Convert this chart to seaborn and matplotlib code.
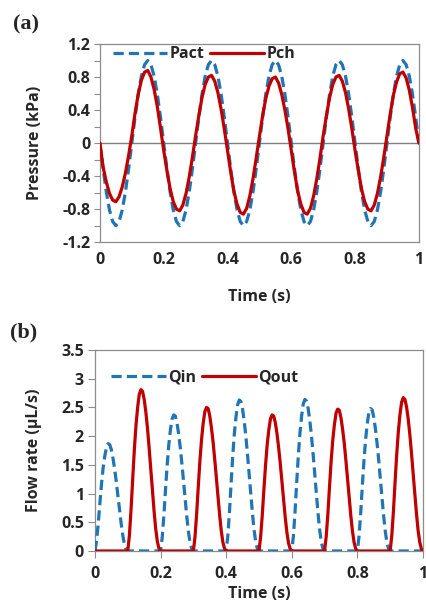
import numpy as np
import pandas as pd
import matplotlib
matplotlib.use("Agg")
import matplotlib.pyplot as plt
import seaborn as sns

# ---------------- data ----------------
time = [round(i * 0.01, 2) for i in range(101)]

pact = [0, -0.31, -0.59, -0.81, -0.95, -1.0, -0.95, -0.81, -0.59, -0.31,
        0, 0.31, 0.59, 0.81, 0.95, 1.0, 0.95, 0.81, 0.59, 0.31,
        0, -0.31, -0.59, -0.81, -0.95, -1.0, -0.95, -0.81, -0.59, -0.31,
        0, 0.31, 0.59, 0.81, 0.95, 1.0, 0.95, 0.81, 0.59, 0.31,
        0, -0.31, -0.59, -0.81, -0.95, -1.0, -0.95, -0.81, -0.59, -0.31,
        0, 0.31, 0.59, 0.81, 0.95, 1.0, 0.95, 0.81, 0.59, 0.31,
        0, -0.31, -0.59, -0.81, -0.95, -1.0, -0.95, -0.81, -0.59, -0.31,
        0, 0.31, 0.59, 0.81, 0.95, 1.0, 0.95, 0.81, 0.59, 0.31,
        0, -0.31, -0.59, -0.81, -0.95, -1.0, -0.95, -0.81, -0.59, -0.31,
        0, 0.31, 0.59, 0.81, 0.95, 1.0, 0.95, 0.81, 0.59, 0.31,
        0]

pch = [0, -0.29, -0.47, -0.61, -0.69, -0.71, -0.65, -0.53, -0.36, -0.15,
       0.09, 0.36, 0.59, 0.76, 0.86, 0.88, 0.80, 0.65, 0.44, 0.18,
       -0.09, -0.33, -0.55, -0.71, -0.80, -0.82, -0.75, -0.61, -0.41, -0.17,
       0.09, 0.33, 0.55, 0.71, 0.80, 0.82, 0.75, 0.61, 0.41, 0.17,
       -0.09, -0.35, -0.58, -0.74, -0.84, -0.86, -0.79, -0.64, -0.43, -0.18,
       0.08, 0.33, 0.54, 0.69, 0.78, 0.80, 0.73, 0.59, 0.40, 0.17,
       -0.09, -0.35, -0.58, -0.74, -0.84, -0.86, -0.79, -0.64, -0.43, -0.18,
       0.09, 0.33, 0.55, 0.71, 0.80, 0.82, 0.75, 0.61, 0.41, 0.17,
       -0.09, -0.33, -0.55, -0.71, -0.80, -0.82, -0.75, -0.61, -0.41, -0.17,
       0.09, 0.35, 0.58, 0.74, 0.84, 0.86, 0.79, 0.64, 0.43, 0.18,
       0]

# flow-rate pulses sampled every 5 ms; between pulses the flow is zero
qin_time = ([round(s + k * 0.005, 3) for s in (0.0, 0.2, 0.4, 0.6, 0.8)
             for k in range(21)] + [1.0])
qin = [0, 0.19, 0.49, 0.84, 1.18, 1.46, 1.66, 1.81, 1.87, 1.85, 1.76,
       1.61, 1.42, 1.20, 0.95, 0.71, 0.47, 0.26, 0.11, 0.03, 0,
       0, 0.24, 0.62, 1.07, 1.49, 1.85, 2.11, 2.30, 2.37, 2.35, 2.23,
       2.04, 1.80, 1.52, 1.21, 0.90, 0.59, 0.33, 0.14, 0.04, 0,
       0, 0.26, 0.68, 1.18, 1.66, 2.05, 2.34, 2.55, 2.63, 2.60, 2.47,
       2.26, 2.00, 1.68, 1.34, 1.00, 0.66, 0.37, 0.16, 0.04, 0,
       0, 0.26, 0.69, 1.19, 1.66, 2.06, 2.35, 2.56, 2.64, 2.61, 2.48,
       2.27, 2.01, 1.69, 1.35, 1.00, 0.66, 0.37, 0.16, 0.04, 0,
       0, 0.25, 0.64, 1.12, 1.56, 1.93, 2.21, 2.41, 2.48, 2.46, 2.33,
       2.13, 1.88, 1.59, 1.26, 0.94, 0.62, 0.35, 0.15, 0.04, 0,
       0]

qout_time = ([0.0] + [round(s + k * 0.005, 3) for s in (0.1, 0.3, 0.5, 0.7, 0.9)
                      for k in range(21)])
qout = [0,
        0, 0.28, 0.73, 1.26, 1.77, 2.19, 2.50, 2.73, 2.81, 2.78, 2.64,
        2.42, 2.14, 1.80, 1.43, 1.07, 0.70, 0.39, 0.17, 0.04, 0,
        0, 0.25, 0.65, 1.13, 1.58, 1.95, 2.23, 2.43, 2.50, 2.48, 2.35,
        2.15, 1.90, 1.60, 1.28, 0.95, 0.63, 0.35, 0.15, 0.04, 0,
        0, 0.24, 0.62, 1.07, 1.49, 1.85, 2.11, 2.30, 2.37, 2.35, 2.23,
        2.04, 1.80, 1.52, 1.21, 0.90, 0.59, 0.33, 0.14, 0.04, 0,
        0, 0.25, 0.64, 1.11, 1.56, 1.93, 2.20, 2.40, 2.47, 2.45, 2.32,
        2.12, 1.88, 1.58, 1.26, 0.94, 0.62, 0.35, 0.15, 0.04, 0,
        0, 0.27, 0.69, 1.20, 1.68, 2.08, 2.38, 2.59, 2.67, 2.64, 2.51,
        2.30, 2.03, 1.71, 1.36, 1.01, 0.67, 0.37, 0.16, 0.04, 0]

xticks = [0, 0.2, 0.4, 0.6, 0.8, 1]
xticklabels = ["0", "0.2", "0.4", "0.6", "0.8", "1"]
yticks_a = [-1.2, -0.8, -0.4, 0, 0.4, 0.8, 1.2]
yticklabels_a = ["-1.2", "-0.8", "-0.4", "0", "0.4", "0.8", "1.2"]
yticks_b = [0, 0.5, 1, 1.5, 2, 2.5, 3, 3.5]
yticklabels_b = ["0", "0.5", "1", "1.5", "2", "2.5", "3", "3.5"]

# ---------------- style ----------------
sns.set_style("white")
plt.rcParams['font.family'] = ['Open Sans', 'DejaVu Sans']
plt.rcParams['font.weight'] = 'bold'

BLUE = "#2174B5"
RED = "#C00000"
SPINE = "#8C8C8C"
LW = 2.3
DASH = (3.2, 1.6)
FS = 11.5

df_a = pd.DataFrame({"Time": time, "Pact": pact, "Pch": pch})
df_in = pd.DataFrame({"Time": qin_time, "Qin": qin})
df_out = pd.DataFrame({"Time": qout_time, "Qout": qout})

fig = plt.figure(figsize=(4.27, 6.07), dpi=100)
ax1 = fig.add_axes([0.234, 0.601, 0.747, 0.3265])
ax2 = fig.add_axes([0.2225, 0.0923, 0.768, 0.3311])

# ---- panel (a)
ax1.axhline(0, color="#7F7F7F", lw=1.0, zorder=1)
sns.lineplot(data=df_a, x="Time", y="Pact", ax=ax1, color=BLUE, lw=LW,
             label="Pact", zorder=3)
ax1.lines[-1].set_dashes(DASH)
sns.lineplot(data=df_a, x="Time", y="Pch", ax=ax1, color=RED, lw=LW,
             label="Pch", zorder=4)
ax1.set_xlim(0, 1)
ax1.set_ylim(-1.2, 1.2)
ax1.set_xticks(xticks)
ax1.set_xticklabels(xticklabels)
ax1.set_yticks(yticks_a)
ax1.set_yticklabels(yticklabels_a)
ax1.set_yticks([-1.0, -0.6, -0.2, 0.2, 0.6, 1.0], minor=True)
ax1.tick_params(axis='y', which='both', direction='out', length=4, width=0.8,
                color=SPINE, left=True, labelsize=FS, pad=3)
ax1.tick_params(axis='x', which='both', length=0, labelsize=FS, pad=7)
ax1.set_xlabel("Time (s)", fontsize=FS, fontweight='bold')
ax1.xaxis.set_label_coords(0.5, -0.235)
ax1.set_ylabel("Pressure (kPa)", fontsize=FS, fontweight='bold')
ax1.yaxis.set_label_coords(-0.179, 0.5)
leg = ax1.legend(loc="upper left", ncol=2, frameon=False, fontsize=FS,
                 handlelength=3.4, columnspacing=0.35, handletextpad=0.15,
                 borderaxespad=0.0, bbox_to_anchor=(0.02, 1.02))
for t in leg.get_texts():
    t.set_fontweight('bold')

# ---- panel (b)
sns.lineplot(data=df_in, x="Time", y="Qin", ax=ax2, color=BLUE, lw=LW,
             label="Qin", zorder=3)
ax2.lines[-1].set_dashes(DASH)
sns.lineplot(data=df_out, x="Time", y="Qout", ax=ax2, color=RED, lw=LW,
             label="Qout", zorder=4)
ax2.set_xlim(0, 1)
ax2.set_ylim(0, 3.5)
ax2.set_xticks(xticks)
ax2.set_xticklabels(xticklabels)
ax2.set_yticks(yticks_b)
ax2.set_yticklabels(yticklabels_b)
ax2.tick_params(axis='both', which='major', direction='out', length=5,
                width=0.8, color=SPINE, left=True, bottom=True,
                labelsize=FS, pad=3)
ax2.tick_params(axis='x', pad=6)
ax2.set_xlabel("Time (s)", fontsize=FS, fontweight='bold')
ax2.xaxis.set_label_coords(0.5, -0.175)
ax2.set_ylabel("Flow rate (µL/s)", fontsize=FS, fontweight='bold')
ax2.yaxis.set_label_coords(-0.162, 0.5)
leg2 = ax2.legend(loc="upper left", ncol=2, frameon=False, fontsize=FS,
                  handlelength=3.4, columnspacing=0.35, handletextpad=0.15,
                  borderaxespad=0.0, bbox_to_anchor=(0.03, 0.935))
for t in leg2.get_texts():
    t.set_fontweight('bold')

for ax in (ax1, ax2):
    for s in ax.spines.values():
        s.set_color(SPINE)
        s.set_linewidth(0.9)
    for lab in ax.get_xticklabels() + ax.get_yticklabels():
        lab.set_fontweight('bold')

fig.text(0.03, 0.96, "(a)", fontsize=16, fontweight='bold',
         family=['Liberation Serif'], va='center', ha='left')
fig.text(0.023, 0.453, "(b)", fontsize=16, fontweight='bold',
         family=['Liberation Serif'], va='center', ha='left')

fig.savefig("out.png", dpi=100)
